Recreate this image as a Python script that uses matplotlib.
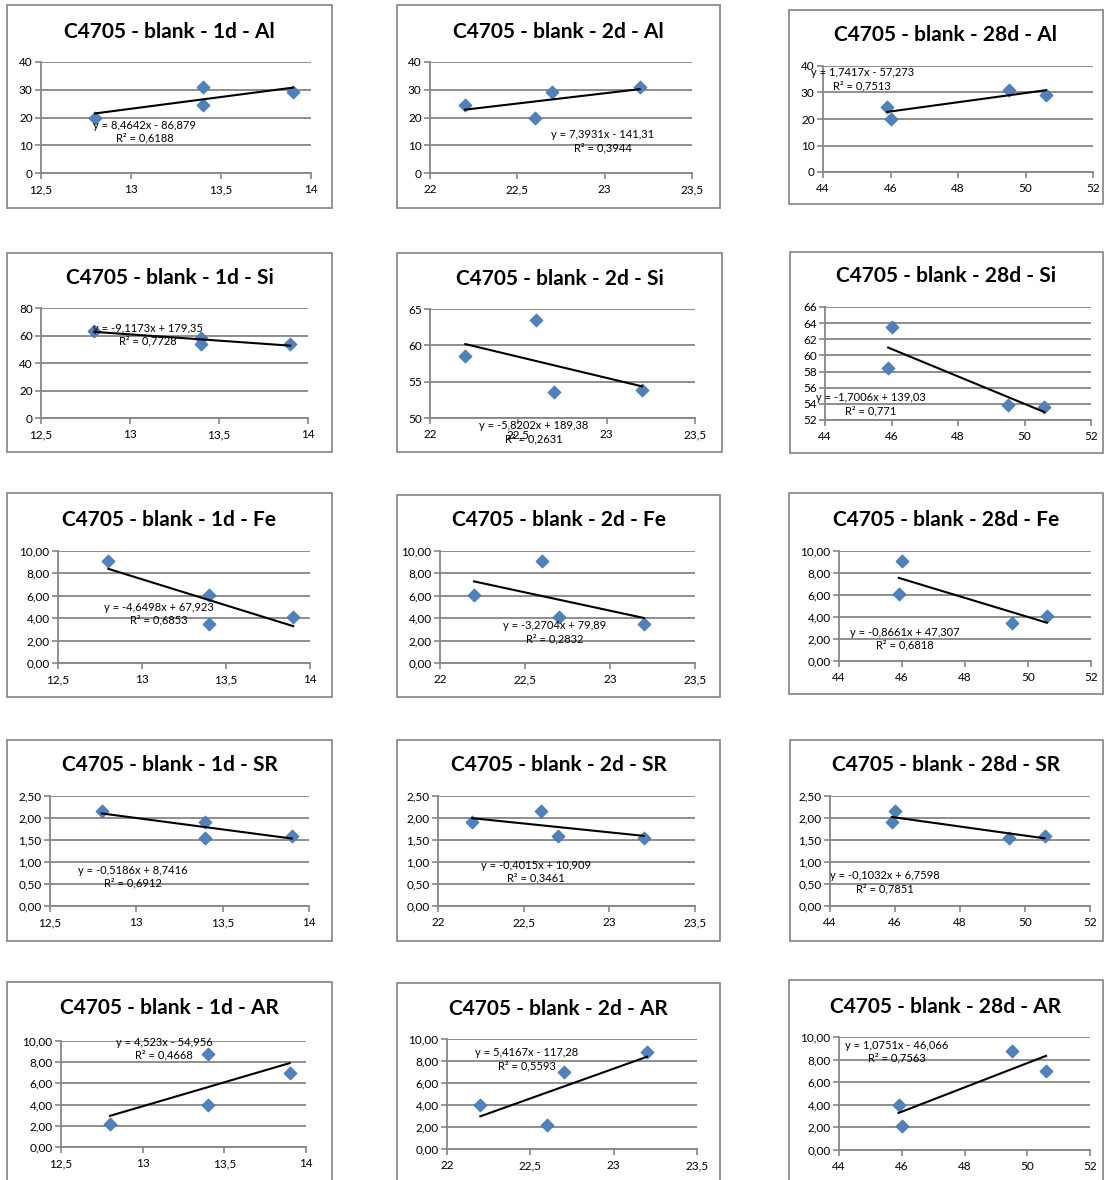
import numpy as np
import matplotlib.pyplot as plt
from matplotlib.patches import Rectangle
from matplotlib.ticker import FuncFormatter

plt.rcParams['font.family'] = ['Lato', 'DejaVu Sans']

ages = ['1d', '2d', '28d']
elements = ['Al', 'Si', 'Fe', 'SR', 'AR']

# x value of the four samples for each age
x_1d = [12.8, 13.4, 13.9, 13.4]
x_2d = [22.6, 22.2, 22.7, 23.2]
x_28d = [46.0, 45.9, 50.6, 49.5]

# measured values of the same four samples
al = [20.0, 24.5, 29.2, 31.0]
si = [63.5, 58.5, 53.6, 53.8]
fe = [9.1, 6.1, 4.1, 3.45]
sr = [2.15, 1.9, 1.6, 1.55]
ar = [2.15, 4.0, 7.0, 8.8]

# linear trendlines (slope, intercept, R2) per element, for 1d / 2d / 28d
fit_al = [(8.4642, -86.879, 0.6188), (7.3931, -141.31, 0.3944), (1.7417, -57.273, 0.7513)]
fit_si = [(-9.1173, 179.35, 0.7728), (-5.8202, 189.38, 0.2631), (-1.7006, 139.03, 0.771)]
fit_fe = [(-4.6498, 67.923, 0.6853), (-3.2704, 79.89, 0.2832), (-0.8661, 47.307, 0.6818)]
fit_sr = [(-0.5186, 8.7416, 0.6912), (-0.4015, 10.909, 0.3461), (-0.1032, 6.7598, 0.7851)]
fit_ar = [(4.523, -54.956, 0.4668), (5.4167, -117.28, 0.5593), (1.0751, -46.066, 0.7563)]

# axis scales (min, max, step)
x_scales = [(12.5, 14, 0.5), (22, 23.5, 0.5), (44, 52, 2)]
y_scales = {
    'Al': [(0, 40, 10)] * 3,
    'Si': [(0, 80, 20), (50, 65, 5), (52, 66, 2)],
    'Fe': [(0, 10, 2)] * 3,
    'SR': [(0, 2.5, 0.5)] * 3,
    'AR': [(0, 10, 2)] * 3,
}
y_decimals = {'Al': 0, 'Si': 0, 'Fe': 2, 'SR': 2, 'AR': 2}

xs = [x_1d, x_2d, x_28d]
ys = {'Al': al, 'Si': si, 'Fe': fe, 'SR': sr, 'AR': ar}
fits = {'Al': fit_al, 'Si': fit_si, 'Fe': fit_fe, 'SR': fit_sr, 'AR': fit_ar}

# ---- layout in pixels (left, top, right, bottom) ----
W, H = 1105, 1180
boxes = [
    [(7, 5, 332, 208), (397, 5, 720, 208), (789, 10, 1103, 204)],
    [(7, 253, 332, 452), (397, 253, 722, 452), (790, 252, 1103, 453)],
    [(7, 493, 332, 697), (397, 495, 720, 697), (789, 493, 1103, 694)],
    [(7, 740, 332, 941), (397, 740, 720, 941), (790, 740, 1103, 941)],
    [(7, 982, 332, 1190), (397, 983, 720, 1190), (789, 980, 1103, 1190)],
]
plots = [
    [(41, 62, 311, 173), (430, 62, 692, 173), (823, 66, 1093, 172)],
    [(41, 308, 308, 418), (430, 309, 695, 418), (825, 307, 1091, 420)],
    [(58, 551, 310, 663), (440, 551, 695, 663), (839, 551, 1091, 661)],
    [(50, 796, 309, 906), (438, 796, 695, 906), (830, 796, 1090, 906)],
    [(61, 1041, 306, 1147), (447, 1039, 697, 1149), (839, 1037, 1090, 1150)],
]
title_y = [[32, 32, 35], [278, 279, 276], [520, 520, 520], [765, 765, 765], [1008, 1009, 1007]]
# equation label centre, axes fraction
eq_pos = [
    [(0.385, 0.37), (0.66, 0.285), (0.145, 0.875)],
    [(0.40, 0.76), (0.39, -0.13), (0.173, 0.14)],
    [(0.40, 0.44), (0.45, 0.275), (0.26, 0.205)],
    [(0.32, 0.265), (0.38, 0.31), (0.21, 0.215)],
    [(0.42, 0.93), (0.32, 0.815), (0.23, 0.87)],
]

grid_col = '#868686'
blue = '#4F81BD'


def num(v, sig=5):
    return f'{v:.{sig}g}'.replace('.', ',')


def comma_fmt(dec):
    return FuncFormatter(lambda v, p: (f'{v:.{dec}f}' if dec else f'{v:g}').replace('.', ','))


fig = plt.figure(figsize=(W / 100, H / 100), dpi=100)

for r, el in enumerate(elements):
    for c, age in enumerate(ages):
        bl, bt, br, bb = boxes[r][c]
        fig.add_artist(Rectangle((bl / W, 1 - bb / H), (br - bl) / W, (bb - bt) / H,
                                 transform=fig.transFigure, fill=False,
                                 edgecolor='#8c8c8c', lw=1.3))
        fig.text((bl + br) / 2 / W, 1 - title_y[r][c] / H,
                 f'C4705 - blank - {age} - {el}', ha='center', va='center',
                 fontsize=15, fontweight='bold')

        pl, pt, pr, pb = plots[r][c]
        ax = fig.add_axes([pl / W, 1 - pb / H, (pr - pl) / W, (pb - pt) / H])

        x = np.array(xs[c])
        y = np.array(ys[el])
        m, b, r2 = fits[el][c]

        ax.scatter(x, y, marker='D', s=46, color=blue, edgecolors='#3a6ea5',
                   linewidths=0.4, zorder=3, clip_on=False)
        xl = np.array([x.min(), x.max()])
        ax.plot(xl, m * xl + b, color='black', lw=1.5, zorder=4)

        sign = '-' if b < 0 else '+'
        eq = f'y = {num(m)}x {sign} {num(abs(b))}\nR² = {num(r2, 4)}'
        ex, ey = eq_pos[r][c]
        ax.text(ex, ey, eq, transform=ax.transAxes, ha='center', va='center',
                multialignment='center', fontsize=8, linespacing=1.2, zorder=5)

        x0, x1, xs_ = x_scales[c]
        y0, y1, ys_ = y_scales[el][c]
        ax.set_xlim(x0, x1)
        ax.set_ylim(y0, y1)
        ax.set_xticks(np.arange(x0, x1 + xs_ / 2, xs_))
        ax.set_yticks(np.arange(y0, y1 + ys_ / 2, ys_))
        ax.xaxis.set_major_formatter(comma_fmt(0))
        ax.yaxis.set_major_formatter(comma_fmt(y_decimals[el]))

        ax.grid(axis='y', color=grid_col, lw=1.3, zorder=0)
        ax.set_axisbelow(True)
        for s in ['top', 'right']:
            ax.spines[s].set_visible(False)
        for s in ['left', 'bottom']:
            ax.spines[s].set_color(grid_col)
            ax.spines[s].set_linewidth(1.3)
        ax.tick_params(direction='out', length=4, width=1.2, color=grid_col,
                       labelsize=8.5, pad=2)
        ax.tick_params(axis='x', pad=4)

fig.savefig('out.png', dpi=100)
